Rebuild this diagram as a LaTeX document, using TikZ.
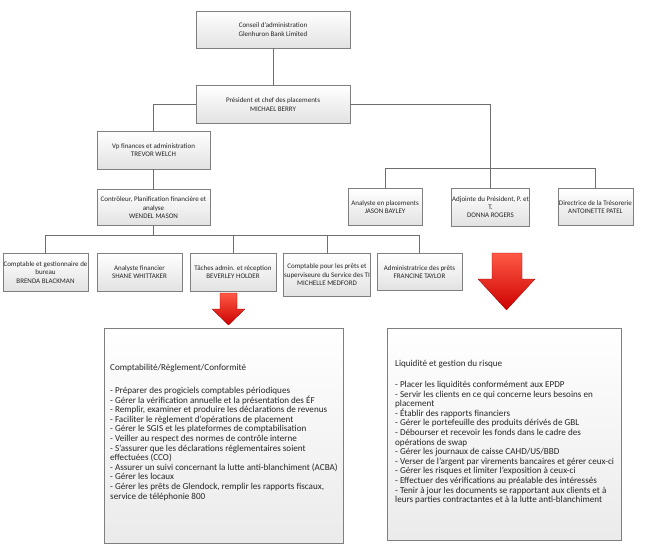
\documentclass[tikz,border=0pt]{standalone}
\usepackage{fontspec}
\setmainfont{Carlito}
\usetikzlibrary{calc,positioning,shadows}
\definecolor{boxline}{HTML}{7F7F7F}
\definecolor{boxfill}{HTML}{E2E2E2}
\definecolor{linkgray}{HTML}{6E6E6E}
\definecolor{arrowtop}{HTML}{FF5A46}
\definecolor{arrowbot}{HTML}{CC0000}
\definecolor{inktext}{HTML}{262626}
\tikzset{
  link/.style={draw=linkgray, line width=0.8pt},
  orgbox/.style={draw=boxline, line width=0.6pt, top color=white, bottom color=boxfill,
    align=center, inner sep=0.5pt, text=inktext, font=\fontsize{7}{8.3}\selectfont,
    drop shadow={shadow xshift=0.8pt, shadow yshift=-0.8pt, fill=black!20}},
  panel/.style={draw=boxline, line width=0.6pt, top color=white, bottom color=boxfill!70,
    drop shadow={shadow xshift=1pt, shadow yshift=-1pt, fill=black!15}},
  paneltext/.style={anchor=north west, inner sep=0pt, align=left, text=inktext,
    font=\fontsize{9.1}{9.6}\selectfont},
  redarrow/.style={draw=arrowbot!70!black, line width=0.3pt, top color=arrowtop, bottom color=arrowbot}
}
\begin{document}
\begin{tikzpicture}[x=1pt, y=-1pt, node distance=20pt]
  \useasboundingbox (0,0) rectangle (654,558);
  \node[orgbox, minimum width=154pt, minimum height=37pt] (conseil) at (273,29.5) {Conseil d’administration\\Glenhuron Bank Limited};
  \node[orgbox, minimum width=154pt, minimum height=38pt, below=37pt of conseil] (president) {Président et chef des placements\\MICHAEL BERRY};

  \node[orgbox, minimum width=113pt, minimum height=38pt] (vp) at (153.5,150) {Vp finances et administration\\TREVOR WELCH};
  \node[orgbox, minimum width=113pt, minimum height=36pt, below=20pt of vp] (ctrl) {Contrôleur, Planification financière et\\analyse\\WENDEL MASON};

  \node[orgbox, minimum width=75pt, minimum height=38pt] (adjointe) at (490.5,207) {Adjointe du Président, P. et\\T.\\DONNA ROGERS};
  \node[orgbox, minimum width=74pt, minimum height=37pt, left=29pt of adjointe] (analyste) {Analyste en placements\\JASON BAYLEY};
  \node[orgbox, minimum width=75pt, minimum height=37pt, right=28pt of adjointe] (directrice) {Directrice de la Trésorerie\\ANTOINETTE PATEL};

  \node[orgbox, anchor=north, minimum width=85pt, minimum height=38pt] (comptable) at (45.5,253) {Comptable et gestionnaire de\\bureau\\BRENDA BLACKMAN};
  \node[orgbox, anchor=north, minimum width=85pt, minimum height=38pt] (analfin) at (139.5,253) {Analyste financier\\SHANE WHITTAKER};
  \node[orgbox, anchor=north, minimum width=86pt, minimum height=38pt] (taches) at (233,253) {Tâches admin. et réception\\BEVERLEY HOLDER};
  \node[orgbox, anchor=north, minimum width=84pt, minimum height=43pt] (prets) at (327,253) {Comptable pour les prêts et\\superviseure du Service des TI\\MICHELLE MEDFORD};
  \node[orgbox, anchor=north, minimum width=85pt, minimum height=37pt] (adminprets) at (419.5,253) {Administratrice des prêts\\FRANCINE TAYLOR};

  \draw[link] (conseil) -- (president);
  \draw[link] (president.west) -| (vp.north);
  \draw[link] (president.east) -| (adjointe.north);
  \coordinate[above=19pt of adjointe.north] (rbus);
  \draw[link] (analyste.north) |- (rbus) -| (directrice.north);
  \draw[link] (vp) -- (ctrl);
  \coordinate[below=9pt of ctrl.south] (lbus);
  \draw[link] (ctrl.south) -- (lbus);
  \draw[link] (comptable.north) |- (lbus) -| (adminprets.north);
  \draw[link] (taches.north) -- (taches.north |- lbus);
  \draw[link] (prets.north) -- (prets.north |- lbus);

  \path[redarrow] (220,293) -- (237,293) -- (237,309) -- (245,309) -- (228.5,325) -- (212,309) -- (220,309) -- cycle;
  \path[redarrow] (492,253) -- (522,253) -- (522,279) -- (535,279) -- (506.5,310) -- (478,279) -- (492,279) -- cycle;

  \node[panel, minimum width=239pt, minimum height=215pt] (leftpanel) at (223.5,435.5) {};
  \node[panel, minimum width=234pt, minimum height=212pt] (rightpanel) at (504,434) {};

  \node[paneltext] (lefttext) at (110,364) {Comptabilité/Règlement/Conformité\\[13.4pt]
    - Préparer des progiciels comptables périodiques\\
    - Gérer la vérification annuelle et la présentation des ÉF\\
    - Remplir, examiner et produire les déclarations de revenus\\
    - Faciliter le règlement d’opérations de placement\\
    - Gérer le SGIS et les plateformes de comptabilisation\\
    - Veiller au respect des normes de contrôle interne\\
    - S’assurer que les déclarations réglementaires soient\\
    effectuées (CCO)\\
    - Assurer un suivi concernant la lutte anti-blanchiment (ACBA)\\
    - Gérer les locaux\\
    - Gérer les prêts de Glendock, remplir les rapports fiscaux,\\
    service de téléphonie 800};
  \node[paneltext] (righttext) at (395,360) {Liquidité et gestion du risque\\[11.4pt]
    - Placer les liquidités conformément aux EPDP\\
    - Servir les clients en ce qui concerne leurs besoins en\\
    placement\\
    - Établir des rapports financiers\\
    - Gérer le portefeuille des produits dérivés de GBL\\
    - Débourser et recevoir les fonds dans le cadre des\\
    opérations de swap\\
    - Gérer les journaux de caisse CAHD/US/BBD\\
    - Verser de l’argent par virements bancaires et gérer ceux-ci\\
    - Gérer les risques et limiter l’exposition à ceux-ci\\
    - Effectuer des vérifications au préalable des intéressés\\
    - Tenir à jour les documents se rapportant aux clients et à\\
    leurs parties contractantes et à la lutte anti-blanchiment};
\end{tikzpicture}
\end{document}
